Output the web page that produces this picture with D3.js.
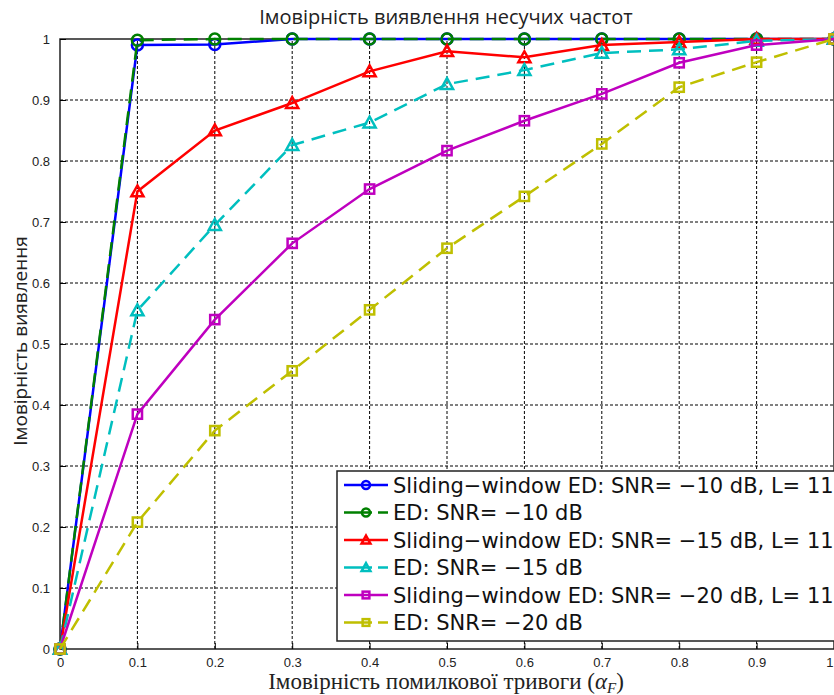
<!DOCTYPE html>
<html>
<head>
<meta charset="utf-8">
<script src="https://cdn.jsdelivr.net/npm/d3@7"></script>
<style>
body { margin: 0; background: #fff; }
svg { display: block; }
</style>
</head>
<body>
<div class="holder"></div>
<script>
var alphaF = [0, 0.1, 0.2, 0.3, 0.4, 0.5, 0.6, 0.7, 0.8, 0.9, 1]

var swSnr10 = [0, 0.99, 0.991, 1.0, 1.0, 1.0, 1.0, 1.0, 1.0, 1.0, 1.0]
var edSnr10 = [0, 0.998, 1.0, 1.0, 1.0, 1.0, 1.0, 1.0, 1.0, 1.0, 1.0]
var swSnr15 = [0, 0.75, 0.85, 0.895, 0.947, 0.98, 0.97, 0.99, 0.995, 1.0, 1.0]
var edSnr15 = [0, 0.555, 0.695, 0.826, 0.863, 0.926, 0.949, 0.977, 0.983, 0.997, 1.0]
var swSnr20 = [0, 0.385, 0.54, 0.665, 0.754, 0.817, 0.866, 0.91, 0.961, 0.99, 1.0]
var edSnr20 = [0, 0.208, 0.358, 0.456, 0.556, 0.657, 0.742, 0.828, 0.921, 0.962, 1.0]

var seriesNames = [
  'Sliding\u2212window ED: SNR= \u221210 dB, L= 11',
  'ED: SNR= \u221210 dB',
  'Sliding\u2212window ED: SNR= \u221215 dB, L= 11',
  'ED: SNR= \u221215 dB',
  'Sliding\u2212window ED: SNR= \u221220 dB, L= 11',
  'ED: SNR= \u221220 dB'
]
var xTicks = [0, 0.1, 0.2, 0.3, 0.4, 0.5, 0.6, 0.7, 0.8, 0.9, 1]
var yTicks = [0, 0.1, 0.2, 0.3, 0.4, 0.5, 0.6, 0.7, 0.8, 0.9, 1]

var series = [
  { name: seriesNames[0], values: swSnr10, color: '#0000ff', dash: null, marker: 'circle' },
  { name: seriesNames[1], values: edSnr10, color: '#008000', dash: '14,8', marker: 'circle' },
  { name: seriesNames[2], values: swSnr15, color: '#ff0000', dash: null, marker: 'triangle' },
  { name: seriesNames[3], values: edSnr15, color: '#00bfbf', dash: '14,8', marker: 'triangle' },
  { name: seriesNames[4], values: swSnr20, color: '#bf00bf', dash: null, marker: 'square' },
  { name: seriesNames[5], values: edSnr20, color: '#bfbf00', dash: '14,8', marker: 'square' }
]

var W = 834, H = 695
var margin = { left: 60, right: 0, top: 39, bottom: 46 }

var svg = d3.select('.holder')
  .append('svg')
  .attr('width', W)
  .attr('height', H)

var xScale = d3.scaleLinear()
  .domain([0, 1])
  .range([margin.left, W - margin.right])

var yScale = d3.scaleLinear()
  .domain([0, 1])
  .range([H - margin.bottom, margin.top])

// grid
svg.append('g')
  .selectAll('line')
  .data(xTicks.slice(1, -1))
  .enter()
  .append('line')
  .attr('x1', function(d) { return xScale(d) })
  .attr('x2', function(d) { return xScale(d) })
  .attr('y1', yScale(0))
  .attr('y2', yScale(1))
  .attr('stroke', '#000')
  .attr('stroke-width', 1)
  .attr('stroke-dasharray', '3,2')

svg.append('g')
  .selectAll('line')
  .data(yTicks.slice(1, -1))
  .enter()
  .append('line')
  .attr('x1', xScale(0))
  .attr('x2', xScale(1))
  .attr('y1', function(d) { return yScale(d) })
  .attr('y2', function(d) { return yScale(d) })
  .attr('stroke', '#000')
  .attr('stroke-width', 1)
  .attr('stroke-dasharray', '3,2')

// frame
svg.append('rect')
  .attr('x', xScale(0))
  .attr('y', yScale(1))
  .attr('width', xScale(1) - xScale(0))
  .attr('height', yScale(0) - yScale(1))
  .attr('fill', 'none')
  .attr('stroke', '#222')
  .attr('stroke-width', 1.5)

var xAxis = d3.axisBottom(xScale)
  .tickValues(xTicks)
  .tickFormat(d3.format('~g'))
  .tickSizeInner(-6)
  .tickSizeOuter(0)
  .tickPadding(10)

var yAxis = d3.axisLeft(yScale)
  .tickValues(yTicks)
  .tickFormat(d3.format('~g'))
  .tickSizeInner(-6)
  .tickSizeOuter(0)
  .tickPadding(10)

var xg = svg.append('g')
  .attr('transform', 'translate(0,' + yScale(0) + ')')
  .call(xAxis)
var yg = svg.append('g')
  .attr('transform', 'translate(' + xScale(0) + ',0)')
  .call(yAxis)

;[xg, yg].forEach(function(g) {
  g.select('.domain').remove()
  g.selectAll('text')
    .style('font-family', 'Liberation Sans, Arial, sans-serif')
    .style('font-size', '13px')
    .attr('fill', '#222')
})
xg.selectAll('text').attr('dy', '0.6em')
// last x tick label sits on the window edge, pull it in
xg.selectAll('text').filter(function(d) { return d == 1 }).attr('text-anchor', 'end').attr('dx', -1)

var line = d3.line()
  .x(function(d, i) { return xScale(alphaF[i]) })
  .y(function(d) { return yScale(d) })

function drawMarker(g, type, color, x, y, s) {
  if (type == 'circle') {
    g.append('circle').attr('cx', x).attr('cy', y).attr('r', s * 0.5)
      .attr('fill', 'none').attr('stroke', color).attr('stroke-width', 2.5)
  } else if (type == 'triangle') {
    var h = s * 0.55
    g.append('path')
      .attr('d', 'M' + x + ',' + (y - h) + 'L' + (x + h) + ',' + (y + h * 0.8) + 'L' + (x - h) + ',' + (y + h * 0.8) + 'Z')
      .attr('fill', 'none').attr('stroke', color).attr('stroke-width', 2.5)
  } else {
    var q = s * 0.42
    g.append('rect').attr('x', x - q).attr('y', y - q).attr('width', 2 * q).attr('height', 2 * q)
      .attr('fill', 'none').attr('stroke', color).attr('stroke-width', 2.5)
  }
}

var plot = svg.append('g')

series.forEach(function(s) {
  plot.append('path')
    .datum(s.values)
    .attr('d', line)
    .attr('fill', 'none')
    .attr('stroke', s.color)
    .attr('stroke-width', 2.5)
    .attr('stroke-dasharray', s.dash)
  var mg = plot.append('g')
  s.values.forEach(function(v, i) {
    drawMarker(mg, s.marker, s.color, xScale(alphaF[i]), yScale(v), 11)
  })
})

// legend
var legend = svg.append('g')
  .attr('id', 'legend')

legend.append('rect')
  .attr('x', 337)
  .attr('y', 471)
  .attr('width', 510)
  .attr('height', 170)
  .attr('fill', '#fff')
  .attr('stroke', '#222')
  .attr('stroke-width', 1.5)

series.forEach(function(s, i) {
  var y = 485 + i * 27.5
  legend.append('line')
    .attr('x1', 344).attr('x2', 388)
    .attr('y1', y).attr('y2', y)
    .attr('stroke', s.color)
    .attr('stroke-width', 2.5)
    .attr('stroke-dasharray', s.dash ? '28,6' : null)
  var lg = legend.append('g')
  drawMarker(lg, s.marker, s.color, 366, y, 8)
  legend.append('text')
    .attr('x', 393)
    .attr('y', y + 7.5)
    .style('font-family', 'DejaVu Sans, sans-serif')
    .style('font-size', '21px')
    .attr('fill', '#111')
    .text(s.name)
})

// title and labels
svg.append('text')
  .attr('x', 446)
  .attr('y', 24)
  .attr('text-anchor', 'middle')
  .style('font-family', 'Open Sans, DejaVu Sans, sans-serif')
  .style('font-size', '20px')
  .attr('fill', '#222')
  .text('Імовірність виявлення несучих частот')

svg.append('text')
  .attr('transform', 'translate(27,' + (yScale(0.5) - 3) + ') rotate(-90)')
  .attr('text-anchor', 'middle')
  .style('font-family', 'Open Sans, DejaVu Sans, sans-serif')
  .style('font-size', '19px')
  .attr('fill', '#222')
  .text('Імовірність виявлення')

var xl = svg.append('text')
  .attr('x', 446)
  .attr('y', 689)
  .attr('text-anchor', 'middle')
  .style('font-family', 'Liberation Serif, DejaVu Serif, serif')
  .style('font-size', '23px')
  .attr('fill', '#222')
xl.append('tspan').text('Імовірність помилкової тривоги (')
xl.append('tspan').style('font-style', 'italic').text('α')
xl.append('tspan').style('font-style', 'italic')
  .style('font-size', '15px').attr('dy', 4).text('F')
xl.append('tspan').attr('dy', -4).text(')')
</script>
</body>
</html>
